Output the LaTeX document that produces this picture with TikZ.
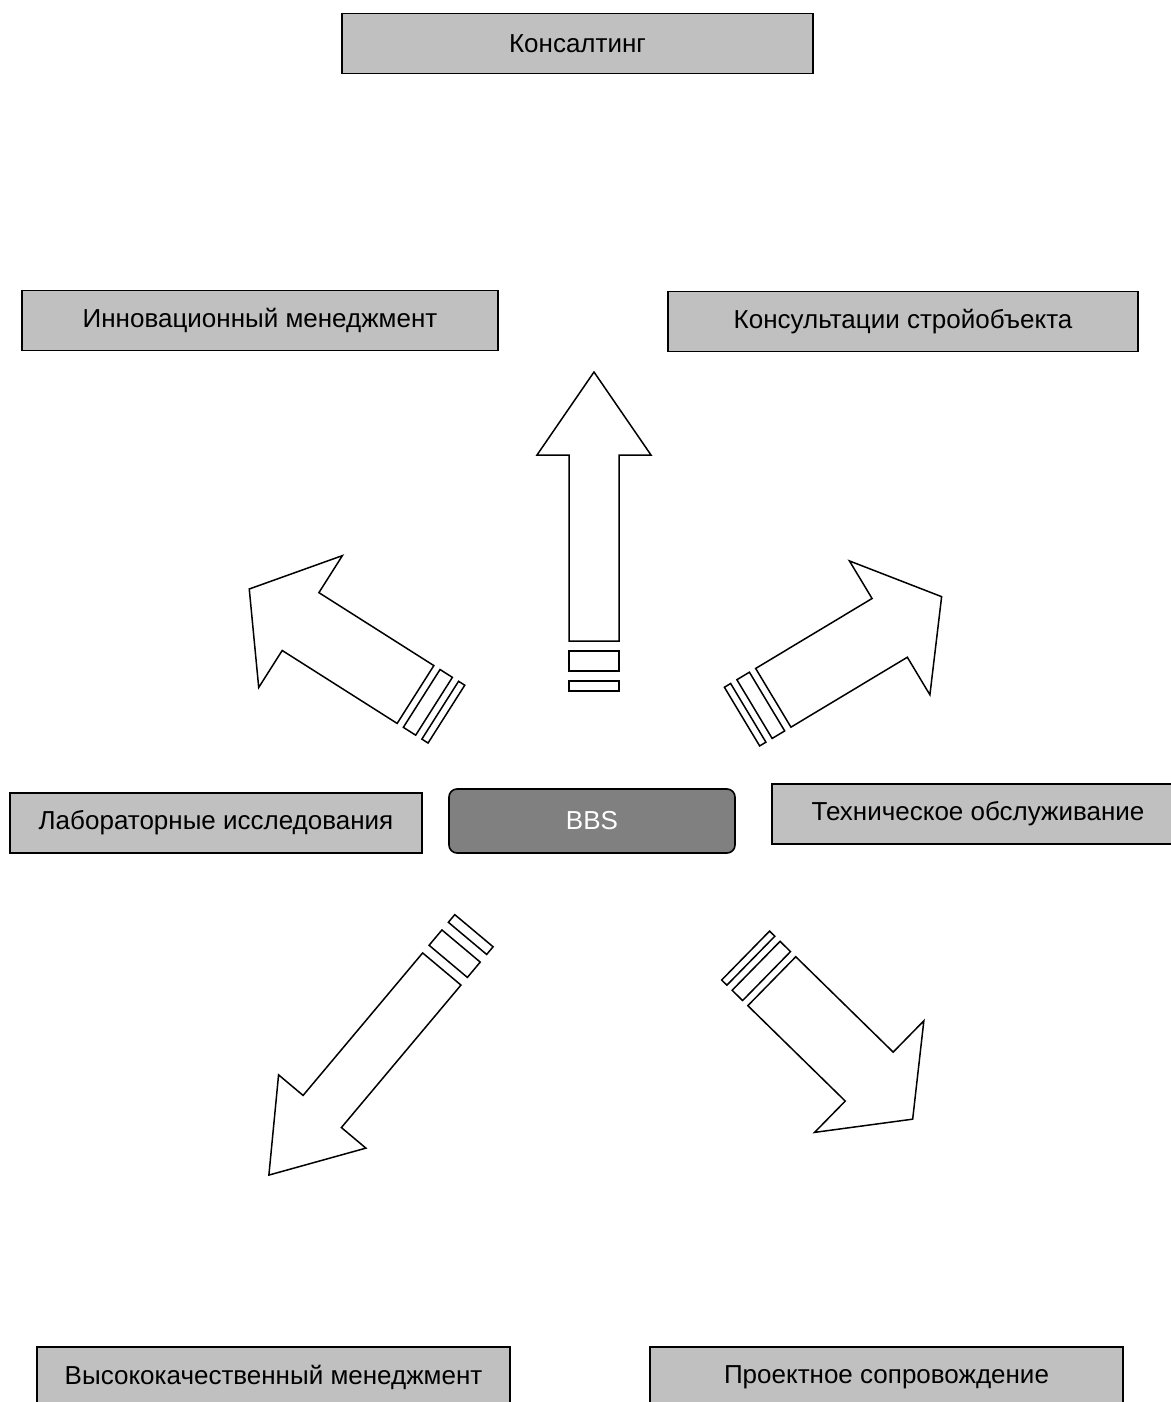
\documentclass[tikz,border=0pt]{standalone}
\usepackage{fontspec}
\setmainfont{Liberation Sans}
\usepackage{tikz}
\usetikzlibrary{positioning}
\definecolor{boxgray}{HTML}{C0C0C0}
\definecolor{hubgray}{HTML}{808080}

\begin{document}
\begin{tikzpicture}
[x=0.5pt,y=-0.5pt,
 service/.style={rectangle,draw,fill=boxgray,line width=0.8pt,minimum height=30pt,inner sep=0pt,font=\fontsize{13pt}{15pt}\selectfont},
 hub/.style={rectangle,rounded corners=4pt,draw,fill=hubgray,text=white,line width=0.8pt,minimum width=143pt,minimum height=32pt,font=\fontsize{13pt}{15pt}\selectfont},
 bigarrow/.style={draw,fill=white,line width=0.75pt,line join=miter}]
\useasboundingbox (0,0) rectangle (1171,1402);
\clip (0,0) rectangle (1171,1402);
% boxes
\node[service,minimum width=235.5pt] (cons) at (577.5,43.5) {Консалтинг};
\node[service,minimum width=238pt] (innov) at (260,320.5) {Инновационный менеджмент};
\node[service,minimum width=235pt] (consult) at (903,321.5) {Консультации стройобъекта};
\node[hub] (bbs) at (592,821) {BBS};
\node[service,minimum width=206pt] (lab) at (216,823) {Лабораторные исследования};
\node[service,minimum width=206pt] (tech) at (978,814) {Техническое обслуживание};
\node[service,minimum width=236.5pt] (highmgmt) at (273.5,1377) {Высококачественный менеджмент};
\node[service,minimum width=236.5pt] (proj) at (886.5,1377) {Проектное сопровождение};
% arrows round the hub
\foreach \px/\py/\ang/\sx/\sy in {594/641/90/1/1, 415.5/694.5/147.6/0.732/1.37,
  773.3/697.8/31/0.73/1.37, 441.8/969/230/1/1, 771.8/981.2/-44.4/0.733/1.37}
{
  \begin{scope}[shift={(\px,\py)},rotate=\ang,xscale=\sx,yscale=\sy]
    \draw[bigarrow] (0,-25) -- (186,-25) -- (186,-57) -- (269,0) -- (186,57) -- (186,25) -- (0,25) -- cycle;
    \draw[bigarrow] (-10,-25) rectangle (-30,25);
    \draw[bigarrow] (-40,-25) rectangle (-50,25);
  \end{scope}
}
\end{tikzpicture}
\end{document}
